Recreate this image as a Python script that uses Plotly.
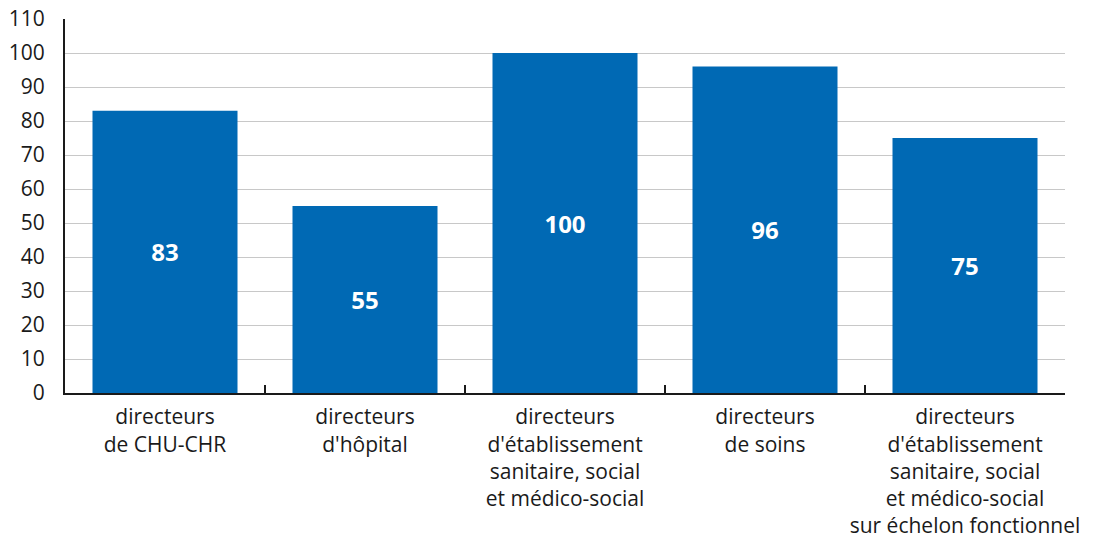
import plotly.graph_objects as go

categories = [
    "directeurs<br>de CHU-CHR",
    "directeurs<br>d'hôpital",
    "directeurs<br>d'établissement<br>sanitaire, social<br>et médico-social",
    "directeurs<br>de soins",
    "directeurs<br>d'établissement<br>sanitaire, social<br>et médico-social<br>sur échelon fonctionnel",
]
values = [83, 55, 100, 96, 75]
y_ticks = list(range(0, 111, 10))

FONT = "Open Sans"

fig = go.Figure(
    go.Bar(
        x=categories,
        y=values,
        text=[str(v) for v in values],
        textposition="inside",
        insidetextanchor="middle",
        textangle=0,
        textfont=dict(family=FONT, size=24, color="white", weight="bold"),
        marker=dict(color="#0069b4", line=dict(width=0)),
        width=0.725,
        hoverinfo="skip",
    )
)

fig.update_layout(
    width=1095,
    height=540,
    margin=dict(l=65, r=30, t=19, b=147),
    plot_bgcolor="white",
    paper_bgcolor="white",
    showlegend=False,
    font=dict(family=FONT, color="#1a1a1a"),
)

fig.update_xaxes(
    type="category",
    automargin=False,
    tickangle=0,
    showline=True,
    linecolor="#1a1a1a",
    linewidth=2,
    ticks="inside",
    tickson="boundaries",
    ticklen=8,
    tickwidth=2,
    tickcolor="#1a1a1a",
    ticklabelstandoff=4,
    ticklabeloverflow="allow",
    tickfont=dict(family=FONT, size=21, color="#1a1a1a"),
    showgrid=False,
    zeroline=False,
)

fig.update_yaxes(
    automargin=False,
    range=[0, 110],
    tickvals=y_ticks,
    ticktext=[str(t) for t in y_ticks],
    showline=True,
    linecolor="#1a1a1a",
    linewidth=2,
    showgrid=True,
    gridcolor="#c8c8c8",
    gridwidth=1,
    zeroline=False,
    ticks="",
    ticklabelstandoff=14,
    ticklabeloverflow="allow",
    tickfont=dict(family=FONT, size=21, color="#1a1a1a"),
)

fig.write_html(
    "out.html",
    config={"displayModeBar": False},
    post_script="document.body.style.margin='0';document.body.style.overflow='hidden';",
)
